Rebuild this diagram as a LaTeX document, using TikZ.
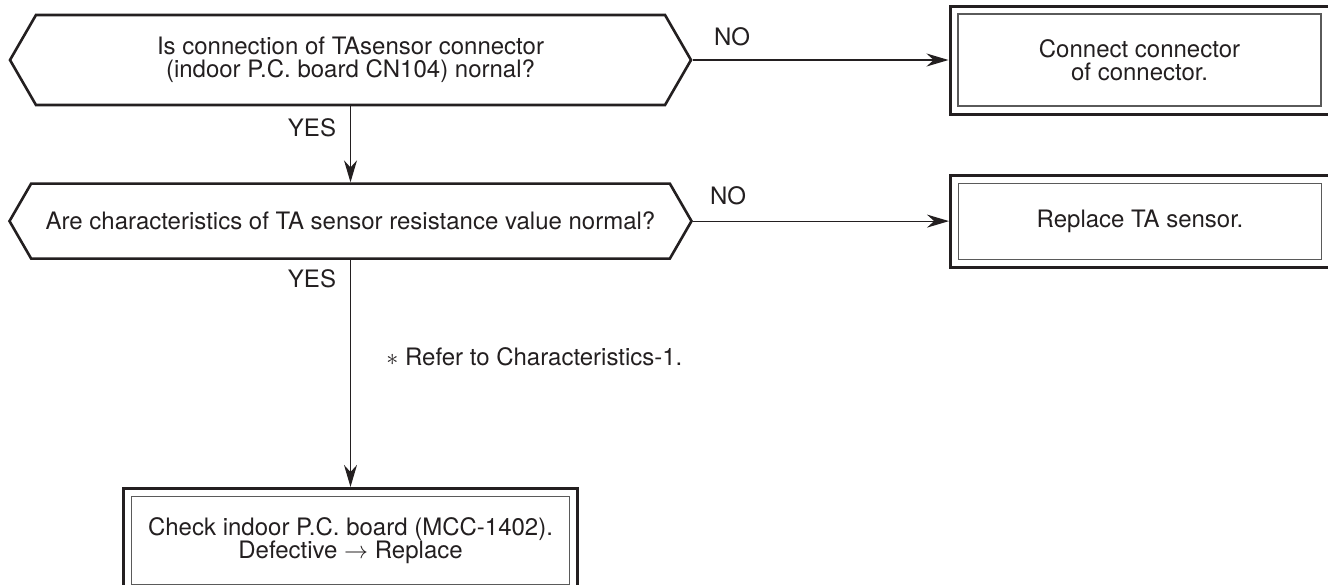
\documentclass[tikz,border=0pt]{standalone}
\usepackage{fontspec}
\setmainfont{TeX Gyre Heros}
\usepackage{tikz}
\usetikzlibrary{
  arrows.meta,
  shapes.symbols,
  positioning
}
\definecolor{fcInk}{HTML}{231F20}
\definecolor{fcFrame}{HTML}{5A5A5A}
\tikzset{
  fcnode/.style={
    align=center, font=\fontsize{12pt}{11.6pt}\selectfont, text=fcInk, inner sep=0pt
  },
  query/.style={
    fcnode, draw=fcInk, line width=1.3pt, signal, signal to=west and east,
    signal pointer angle=120
  },
  action/.style={
    fcnode, draw=fcInk, line width=1.5pt,
    path picture={
      \draw[line width=0.6pt, fcFrame]
        ([shift={(4pt,-4pt)}]path picture bounding box.north west) rectangle
        ([shift={(-4pt,4pt)}]path picture bounding box.south east);
    }
  },
  flow/.style={-{Stealth[length=11pt, width=6.5pt]}, line width=0.6pt, fcInk},
  tag/.style={font=\fontsize{12pt}{11.6pt}\selectfont, text=fcInk, inner sep=0pt}
}

\begin{document}
\begin{tikzpicture}[x=0.5pt, y=-0.5pt]
  \useasboundingbox (0,0) rectangle (1328,584);
  \clip (0,0) rectangle (1328,584);
  % questions
  \node[query, minimum width=340.5pt, minimum height=45pt] (q1) at (350.5,60)
    {Is connection of TAsensor connector\\(indoor P.C. board CN104) nornal?};
  \node[query, minimum width=341pt, minimum height=37.5pt, below=38pt of q1] (q2)
    {Are characteristics of TA sensor resistance value normal?};
  % actions
  \node[action, minimum width=189.5pt, minimum height=54pt, right=128pt of q1] (a1)
    {Connect connector\\of connector.};
  \node[action, minimum width=189.5pt, minimum height=46pt, right=128pt of q2] (a2)
    {Replace TA sensor.};
  \node[action, minimum width=227pt, minimum height=52pt, below=113.5pt of q2] (a3)
    {Check indoor P.C. board (MCC-1402).\\Defective $\rightarrow$ Replace};
  % connectors
  \draw[flow] (q1.east) -- (a1.west);
  \draw[flow] (q2.east) -- (a2.west);
  \draw[flow] (q1.south) -- (q2.north);
  \draw[flow] (q2.south) -- (a3.north);
  % labels
  \node[tag] (yes1) at (312,127.5) {YES};
  \node[tag] (yes2) at (312,278.5) {YES};
  \node[tag] (no1) at (732,37) {NO};
  \node[tag] (no2) at (728,196) {NO};
  \node[tag, anchor=west] (note) at (386,357) {$\ast$ Refer to Characteristics-1.};
\end{tikzpicture}
\end{document}
